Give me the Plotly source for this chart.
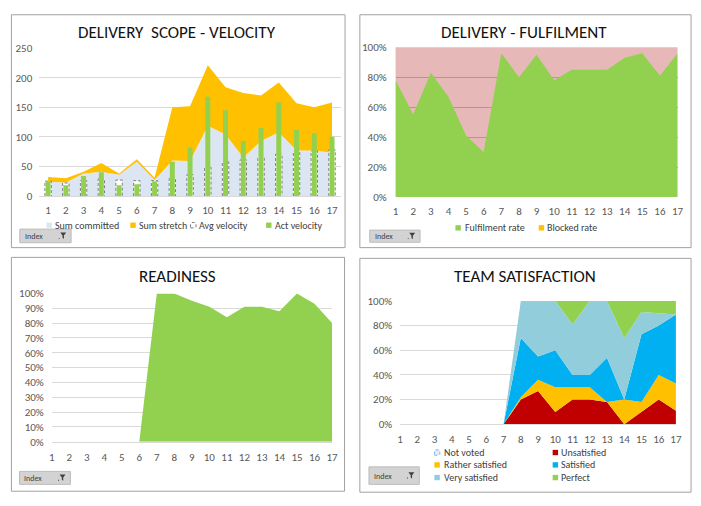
import plotly.graph_objects as go

W, H = 701, 506
def px(x): return x / W
def py(y): return 1 - y / H

FONT = "Calibri, Carlito, Lato, sans-serif"
TICK_COLOR = "#595959"

# ---------------- data ----------------
categories = list(range(1, 18))
tick_labels = [str(c) for c in categories]

# Panel 1: delivery scope - velocity
sum_committed = [24, 23, 38, 41, 36, 58, 27, 60, 59, 119, 104, 65, 93, 108, 77, 77, 73]
sum_stretch   = [8, 7, 3, 15, 2, 4, 4, 90, 93, 102, 80, 109, 77, 84, 80, 73, 85]
avg_velocity  = [25, 22, 26, 29, 27, 26, 26, 30, 36, 49, 58, 61, 65, 71, 74, 76, 78]
act_velocity  = [25, 18, 34, 40, 18, 20, 25, 58, 82, 168, 145, 93, 115, 158, 112, 106, 100]
p1_ticks = [0, 50, 100, 150, 200, 250]

# Panel 2: delivery - fulfilment (%)
fulfilment_rate = [78, 55, 83, 67, 41, 30, 96, 80, 95, 78, 85, 85, 85, 93, 96, 81, 96]
blocked_rate    = [0] * 17
p2_ticks = [0, 20, 40, 60, 80, 100]

# Panel 3: readiness (%)
readiness = [0, 0, 0, 0, 0, 0, 100, 100, 95, 91, 84, 91, 91, 88, 100, 93, 80]
p3_ticks = [0, 10, 20, 30, 40, 50, 60, 70, 80, 90, 100]

# Panel 4: team satisfaction (% shares)
not_voted        = [0] * 17
unsatisfied      = [0, 0, 0, 0, 0, 0, 0, 20, 27, 10, 20, 20, 18, 0, 10, 20, 11]
rather_satisfied = [0, 0, 0, 0, 0, 0, 0, 2, 9, 20, 10, 10, 0, 20, 8, 20, 22]
satisfied        = [0, 0, 0, 0, 0, 0, 0, 48, 19, 30, 10, 10, 36, 0, 55, 40, 56]
very_satisfied   = [0, 0, 0, 0, 0, 0, 0, 30, 45, 40, 41, 60, 46, 50, 18, 10, 0]
perfect          = [0, 0, 0, 0, 0, 0, 0, 0, 0, 0, 19, 0, 0, 30, 9, 10, 11]
p4_ticks = [0, 20, 40, 60, 80, 100]

C_COMMIT = "#DCE6F2"
C_STRETCH = "#FFC000"
C_GREEN = "#92D050"
C_PINK = "#E6B9B8"
C_RED = "#C00000"
C_SAT = "#00B0F0"
C_VERY = "#92CDDC"

fig = go.Figure()

# ---------- panel 1 ----------
fig.add_trace(go.Scatter(x=categories, y=sum_committed, name="Sum committed", mode="lines",
                         stackgroup="p1", line=dict(width=0), fillcolor=C_COMMIT,
                         xaxis="x", yaxis="y"))
fig.add_trace(go.Scatter(x=categories, y=sum_stretch, name="Sum stretch", mode="lines",
                         stackgroup="p1", line=dict(width=0), fillcolor=C_STRETCH,
                         xaxis="x", yaxis="y"))
fig.add_trace(go.Bar(x=categories, y=avg_velocity, name="Avg velocity", width=0.36,
                     marker=dict(color="white", line=dict(width=0)),
                     xaxis="x5", yaxis="y5"))
hw = 0.18
ox, oy = [], []
for c, v in zip(categories, avg_velocity):
    ox += [c - hw, c - hw, c + hw, c + hw, None]
    oy += [0, v, v, 0, None]
fig.add_trace(go.Scatter(x=ox, y=oy, mode="lines", showlegend=False,
                         line=dict(color="#7F7F7F", width=1, dash="3px,2px"),
                         xaxis="x5", yaxis="y5"))
fig.add_trace(go.Bar(x=categories, y=act_velocity, name="Act velocity", width=0.28,
                     marker=dict(color=C_GREEN, line=dict(width=0)),
                     xaxis="x6", yaxis="y6"))

# ---------- panel 2 ----------
fig.add_trace(go.Scatter(x=categories, y=fulfilment_rate, name="Fulfilment rate", mode="lines",
                         stackgroup="p2", line=dict(width=0), fillcolor=C_GREEN,
                         xaxis="x2", yaxis="y2"))
fig.add_trace(go.Scatter(x=categories, y=blocked_rate, name="Blocked rate", mode="lines",
                         stackgroup="p2", line=dict(width=0), fillcolor=C_STRETCH,
                         xaxis="x2", yaxis="y2"))

# ---------- panel 3 ----------
fig.add_trace(go.Scatter(x=categories, y=readiness, name="Readiness", mode="lines",
                         fill="tozeroy", line=dict(width=0), fillcolor=C_GREEN,
                         xaxis="x3", yaxis="y3"))

# ---------- panel 4 ----------
for name, vals, col in [("Not voted", not_voted, C_COMMIT),
                        ("Unsatisfied", unsatisfied, C_RED),
                        ("Rather satisfied", rather_satisfied, C_STRETCH),
                        ("Satisfied", satisfied, C_SAT),
                        ("Very satisfied", very_satisfied, C_VERY),
                        ("Perfect", perfect, C_GREEN)]:
    fig.add_trace(go.Scatter(x=categories, y=vals, name=name, mode="lines",
                             stackgroup="p4", line=dict(width=0), fillcolor=col,
                             xaxis="x4", yaxis="y4"))

fig.update_traces(showlegend=False, hoverinfo="skip")

tickfont = dict(family=FONT, size=11, color=TICK_COLOR)

def xax(d0, d1, rng, anchor, standoff, linecolor="#D9D9D9"):
    return dict(domain=[px(d0), px(d1)], range=rng, anchor=anchor, tickmode="array",
                tickvals=categories, ticktext=tick_labels, showgrid=False, zeroline=False,
                showline=True, linecolor=linecolor, linewidth=1, ticks="",
                tickfont=tickfont, ticklabelstandoff=standoff, fixedrange=True)

def yax(y0, y1, rng, anchor, tvals, ttext, standoff, gridcolor="#D9D9D9"):
    return dict(domain=[py(y0), py(y1)], range=rng, anchor=anchor, tickmode="array",
                tickvals=tvals, ticktext=ttext, showgrid=True, gridcolor=gridcolor,
                gridwidth=1, zeroline=False, showline=False, ticks="",
                tickfont=tickfont, ticklabelstandoff=standoff, fixedrange=True)

pct = lambda t: [f"{v}%" for v in t]

layout = dict(
    width=W, height=H, margin=dict(l=0, r=0, t=0, b=0),
    paper_bgcolor="white", plot_bgcolor="rgba(0,0,0,0)",
    font=dict(family=FONT, color="#404040"),
    showlegend=False, barmode="overlay",
    xaxis=xax(36.7, 342.3, [0.5, 17.5], "y", 4),
    yaxis=yax(195, 43.3, [0, 250], "x", p1_ticks, [str(t) for t in p1_ticks], 6),
    xaxis5=dict(overlaying="x", range=[0.5, 17.5], visible=False, anchor="y5", fixedrange=True),
    yaxis5=dict(overlaying="y", range=[0, 250], visible=False, anchor="x5", fixedrange=True),
    xaxis6=dict(overlaying="x", range=[0.5, 17.5], visible=False, anchor="y6", fixedrange=True),
    yaxis6=dict(overlaying="y", range=[0, 250], visible=False, anchor="x6", fixedrange=True),
    xaxis2=xax(397.7, 683.3, [1, 17], "y2", 4, linecolor="rgba(0,0,0,0)"),
    yaxis2=yax(196, 42.3, [0, 100], "x2", p2_ticks, pct(p2_ticks), 8, gridcolor="#B89494"),
    xaxis3=xax(49.3, 333.3, [1, 17], "y3", 5),
    yaxis3=yax(447.3, 295, [0, 100], "x3", p3_ticks, pct(p3_ticks), 7),
    xaxis4=xax(402.3, 681.7, [1, 17], "y4", 5),
    yaxis4=yax(429.3, 302.7, [0, 100], "x4", p4_ticks, pct(p4_ticks), 7),
)
fig.update_layout(**layout)

shapes = []
annotations = []

# pink plot area of panel 2
shapes.append(dict(type="rect", xref="x2 domain", yref="y2 domain", x0=0, x1=1, y0=0, y1=1,
                   fillcolor=C_PINK, line=dict(width=0), layer="below"))

# panel borders
for (x0, y0, x1, y1) in [(8.5, 9, 346.5, 248), (361.5, 9, 697, 248),
                         (8.5, 258, 346, 498), (361.5, 259, 697, 499)]:
    shapes.append(dict(type="rect", xref="paper", yref="paper", x0=px(x0), x1=px(x1),
                       y0=py(y1), y1=py(y0), line=dict(color="#A0A0A0", width=1),
                       fillcolor="rgba(0,0,0,0)", layer="below"))

# titles
for text, cx, cy in [("DELIVERY  SCOPE - VELOCITY", 176.7, 27.5),
                     ("DELIVERY - FULFILMENT", 528, 27.5),
                     ("READINESS", 176.7, 277.5),
                     ("TEAM SATISFACTION", 528.3, 277.5)]:
    annotations.append(dict(text=text, x=px(cx), y=py(cy), xref="paper", yref="paper",
                            xanchor="center", yanchor="middle", showarrow=False,
                            font=dict(family=FONT, size=17, color="#111111")))

# legends (manual, Excel-style small square markers)
def legend_item(ix, cy, tx, text, fill, line=None):
    s = 5.5
    shapes.append(dict(type="rect", xref="paper", yref="paper",
                       x0=px(ix), x1=px(ix + s), y0=py(cy + s / 2), y1=py(cy - s / 2),
                       fillcolor=fill,
                       line=line if line else dict(width=0)))
    annotations.append(dict(text=text, x=px(tx), y=py(cy), xref="paper", yref="paper",
                            xanchor="left", yanchor="middle", showarrow=False,
                            font=dict(family=FONT, size=10, color="#404040")))

legend_item(44, 225, 50.5, "Sum committed", C_COMMIT)
legend_item(129, 225, 136, "Sum stretch", C_STRETCH)
legend_item(190, 225, 196.5, "Avg velocity", "white",
            dict(color="#7F7F7F", width=1, dash="dot"))
legend_item(266.5, 225, 273.5, "Act velocity", C_GREEN)

legend_item(458.3, 227.7, 466, "Fulfilment rate", C_GREEN)
legend_item(542.7, 227.7, 549.5, "Blocked rate", C_STRETCH)

legend_item(437, 458.3, 444.5, "Not voted", "#E4ECF7", dict(color="#8DB4E2", width=1, dash="dot"))
legend_item(556.8, 458.3, 563.3, "Unsatisfied", C_RED)
legend_item(437, 471, 444.5, "Rather satisfied", C_STRETCH)
legend_item(556.8, 471, 563.3, "Satisfied", C_SAT)
legend_item(437, 484, 444.5, "Very satisfied", C_VERY)
legend_item(556.8, 484, 563.3, "Perfect", C_GREEN)

# "Index" filter buttons
for (x0, y0, x1, y1) in [(17, 229, 69, 243), (371.5, 230, 422.5, 242.5),
                         (16.7, 477.7, 68.3, 491), (370.7, 473, 421.7, 491)]:
    shapes.append(dict(type="rect", xref="paper", yref="paper", x0=px(x0), x1=px(x1),
                       y0=py(y1), y1=py(y0), fillcolor="#D3D3D3",
                       line=dict(color="#BDBDBD", width=1)))
    annotations.append(dict(text="Index", x=px(x0 + 3), y=py((y0 + y1) / 2), xref="paper",
                            yref="paper", xanchor="left", yanchor="middle", showarrow=False,
                            font=dict(family=FONT, size=8, color="#404040")))
    fx = x1 - 8
    fy = (y0 + y1) / 2 - 3.5
    path = (f"M {px(fx - 3)},{py(fy)} L {px(fx + 3)},{py(fy)} L {px(fx + 0.7)},{py(fy + 3)} "
            f"L {px(fx + 0.7)},{py(fy + 6.5)} L {px(fx - 0.7)},{py(fy + 5.5)} "
            f"L {px(fx - 0.7)},{py(fy + 3)} Z")
    shapes.append(dict(type="path", xref="paper", yref="paper", path=path,
                       fillcolor="#404040", line=dict(width=0)))
    shapes.append(dict(type="rect", xref="paper", yref="paper",
                       x0=px(fx - 4.5), x1=px(fx - 3.5), y0=py(fy + 6.5), y1=py(fy + 5.5),
                       fillcolor="#404040", line=dict(width=0)))

fig.update_layout(shapes=shapes, annotations=annotations)

fig.write_html("out.html", config={"displayModeBar": False},
               post_script="document.body.style.margin='0';document.body.style.padding='0';"
                           "document.documentElement.style.overflow='hidden';")
